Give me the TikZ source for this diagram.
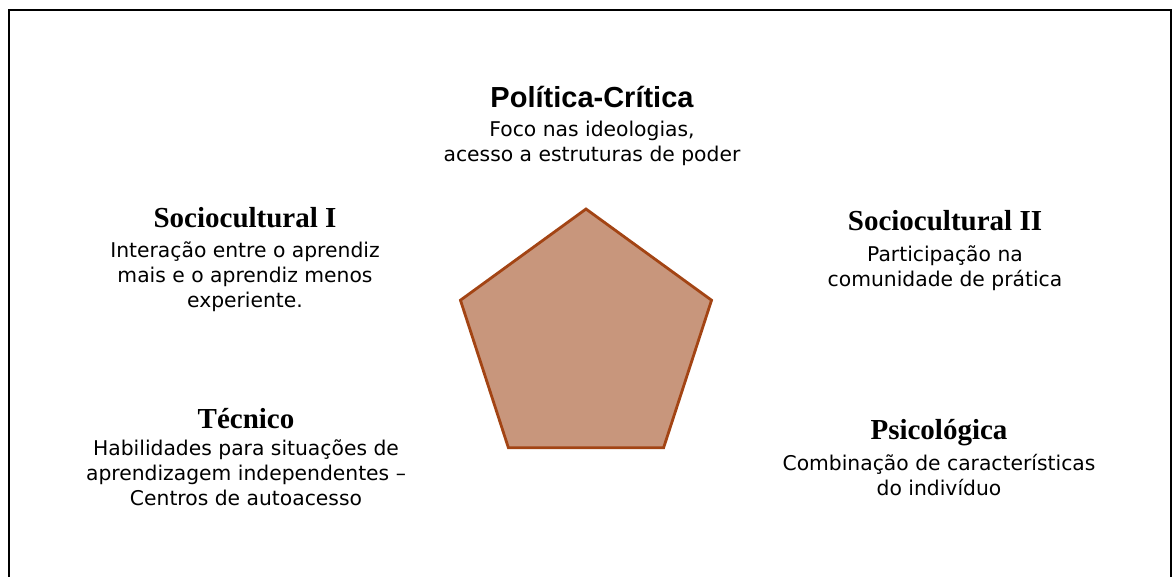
\documentclass[tikz,border=0pt]{standalone}
\usepackage{fontspec}
\setmainfont{Liberation Serif}
\setsansfont{Liberation Sans}
\newfontfamily\corpofont{DejaVu Sans}
\usetikzlibrary{shapes.geometric,positioning}
\definecolor{pentfill}{RGB}{200,150,124}
\definecolor{pentdraw}{RGB}{163,68,20}
\tikzset{
	titulo/.style={anchor=base,font=\fontsize{29}{34}\selectfont\bfseries},
	titulosans/.style={anchor=base,font=\sffamily\fontsize{29}{34}\selectfont\bfseries},
	corpo/.style={anchor=base,align=center,font=\corpofont\fontsize{20.3}{25}\selectfont},
}
\begin{document}
\begin{tikzpicture}[x=1pt,y=-1pt]
		\useasboundingbox (0,0) rectangle (1173,577);
		% moldura aberta embaixo
		\draw[line width=2pt] (9,577)--(9,10)--(1171,10)--(1171,577);
		% pentagono central
		\node[regular polygon,regular polygon sides=5,minimum size=264pt,inner sep=0pt,
			fill=pentfill,draw=pentdraw,line width=2.8pt] (pent) at (586,341) {};
		% rotulos (base do corpo = ultima linha)
		\node[titulosans] (critT) at (592,108) {Política-Crítica};
		\node[corpo] (critD) at ([yshift=-54pt]critT.base) {Foco nas ideologias,\\acesso a estruturas de poder};
		\node[titulo] (socIT) at (245,228) {Sociocultural I};
		\node[corpo] (socID) at ([yshift=-80pt]socIT.base) {Interação entre o aprendiz\\mais e o aprendiz menos\\experiente.};
		\node[titulo] (socIIT) at (945,231) {Sociocultural II};
		\node[corpo] (socIID) at ([yshift=-56pt]socIIT.base) {Participação na\\comunidade de prática};
		\node[titulo] (tecT) at (246,428) {Técnico};
		\node[corpo] (tecD) at ([yshift=-77pt]tecT.base) {Habilidades para situações de\\aprendizagem independentes –\\Centros de autoacesso};
		\node[titulo] (psiT) at (939,439) {Psicológica};
		\node[corpo] (psiD) at ([yshift=-56pt]psiT.base) {Combinação de características\\do indivíduo};
	\end{tikzpicture}
\end{document}
